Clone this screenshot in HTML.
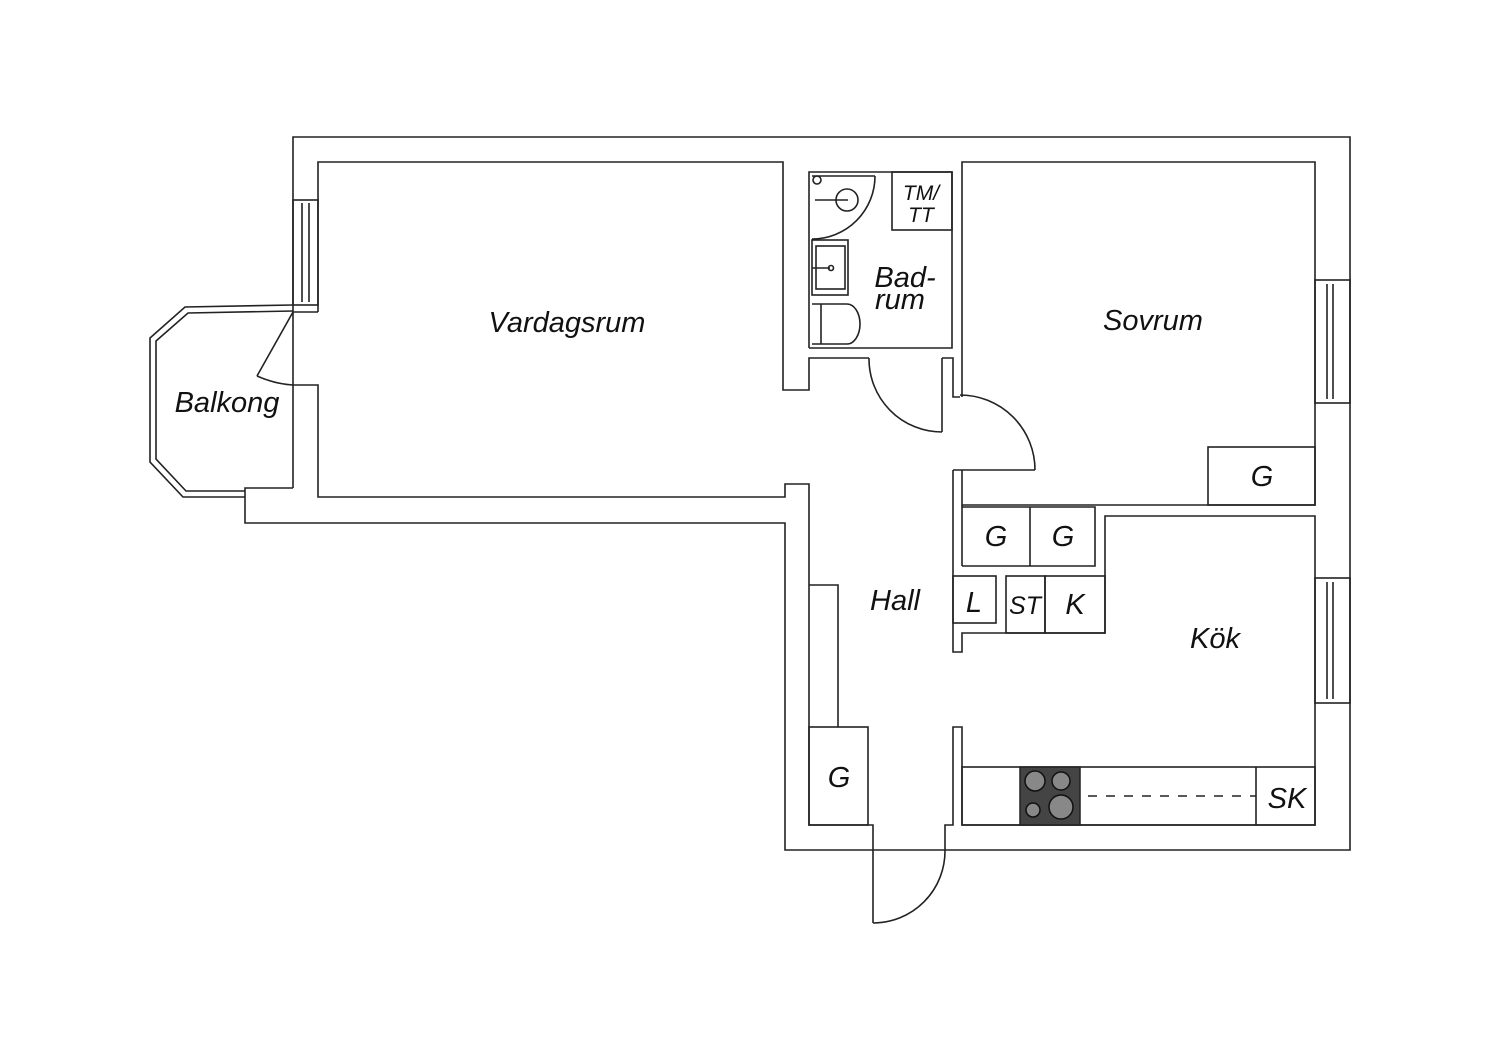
<!DOCTYPE html>
<html><head><meta charset="utf-8"><style>
html,body{margin:0;padding:0;background:#fff;width:1500px;height:1060px;overflow:hidden}
svg text{font-family:"Liberation Sans",sans-serif;font-style:italic;fill:#111}
</style></head><body>
<svg width="1500" height="1060" viewBox="0 0 1500 1060" xmlns="http://www.w3.org/2000/svg">
<g fill="none" stroke="#222" stroke-width="1.6">
<!-- outer wall -->
<polyline points="293,488 293,137 1350,137 1350,850 785,850 785,523 245,523 245,488 293,488"/>
<!-- vardagsrum inner -->
<polyline points="318,312 318,162 783,162 783,390 809,390 809,358 869,358"/>
<polyline points="293,312 318,312"/>
<polyline points="293,385 318,385 318,497 785,497 785,484 809,484 809,825 873,825 873,850"/>
<!-- vardagsrum window -->
<rect x="293" y="200" width="25" height="105"/>
<line x1="302" y1="203" x2="302" y2="302"/><line x1="309" y1="203" x2="309" y2="302"/>
<!-- balcony -->
<polyline points="293,305 185,307 150,338 150,462 183,497 245,497"/>
<polyline points="293,311 188,313 156,341 156,459 186,491 245,491"/>
<line x1="293" y1="312" x2="257" y2="376"/>
<path d="M257,376 Q275,384 293,385"/>
<!-- bathroom -->
<polyline points="809,348 809,172 952,172 952,348 809,348"/>
<polyline points="942,358 953,358 953,397 960,397"/>
<line x1="942" y1="358" x2="942" y2="432"/>
<path d="M869,358 A73,73 0 0 0 942,432"/>
<rect x="892" y="172" width="60" height="58"/>
<path d="M875,176 A63,63 0 0 1 812,239"/>
<line x1="812" y1="176" x2="875" y2="176"/>
<circle cx="847" cy="200" r="11"/>
<line x1="815" y1="200" x2="848" y2="200"/>
<circle cx="817" cy="180" r="4"/>
<rect x="812" y="240" width="36" height="55"/>
<rect x="816" y="246" width="29" height="43"/>
<line x1="812" y1="268" x2="830" y2="268"/><circle cx="831" cy="268" r="2.5"/>
<path d="M812,304 H847 A13,20 0 0 1 847,344 H812"/>
<line x1="821" y1="304" x2="821" y2="344"/>
<!-- sovrum -->
<polyline points="962,397 962,162 1315,162 1315,505 962,505 962,470"/>
<path d="M960,395 A75,75 0 0 1 1035,470"/>
<line x1="953" y1="470" x2="1035" y2="470"/>
<rect x="1315" y="280" width="35" height="123"/>
<line x1="1327" y1="284" x2="1327" y2="399"/><line x1="1333" y1="284" x2="1333" y2="399"/>
<rect x="1208" y="447" width="107" height="58"/>
<!-- hall-right wall -->
<polyline points="953,470 953,652 962,652 962,633 1105,633 1105,516 1315,516 1315,825 962,825 962,727 953,727 953,825 945,825 945,850"/>
<line x1="962" y1="505" x2="962" y2="566"/>
<polyline points="962,566 1095,566 1095,507 962,507"/>
<line x1="1030" y1="507" x2="1030" y2="566"/>
<rect x="953" y="576" width="43" height="47"/>
<rect x="1006" y="576" width="39" height="57"/>
<rect x="1045" y="576" width="60" height="57"/>
<!-- kitchen window -->
<rect x="1315" y="578" width="35" height="125"/>
<line x1="1327" y1="582" x2="1327" y2="699"/><line x1="1333" y1="582" x2="1333" y2="699"/>
<!-- counter -->
<rect x="962" y="767" width="353" height="58"/>
<line x1="1256" y1="767" x2="1256" y2="825"/>
<line x1="1088" y1="796" x2="1256" y2="796" stroke-dasharray="9,9"/>
<!-- hall wardrobe -->
<polyline points="809,585 838,585 838,727"/>
<rect x="809" y="727" width="59" height="98"/>
<!-- entrance door -->
<line x1="873" y1="850" x2="873" y2="923"/>
<path d="M873,923 A72,72 0 0 0 945,850"/>
</g>
<!-- hob -->
<rect x="1020" y="767" width="60" height="58" fill="#444" stroke="#222" stroke-width="1.5"/>
<g fill="#888" stroke="#111" stroke-width="1.5">
<circle cx="1035" cy="781" r="10"/><circle cx="1061" cy="781" r="9"/>
<circle cx="1033" cy="810" r="7"/><circle cx="1061" cy="807" r="12"/>
</g>
<!-- labels -->
<g font-size="29">
<text x="567" y="332" text-anchor="middle">Vardagsrum</text>
<text x="1153" y="330" text-anchor="middle">Sovrum</text>
<text x="227" y="412" text-anchor="middle">Balkong</text>
<text x="895" y="610" text-anchor="middle">Hall</text>
<text x="1215" y="648" text-anchor="middle">Kök</text>
<text x="1262" y="486" text-anchor="middle">G</text>
<text x="996" y="546" text-anchor="middle">G</text>
<text x="1063" y="546" text-anchor="middle">G</text>
<text x="974" y="612" text-anchor="middle">L</text>
<text x="1075" y="614" text-anchor="middle">K</text>
<text x="839" y="787" text-anchor="middle">G</text>
<text x="1287" y="808" text-anchor="middle">SK</text>
<text x="905" y="287" text-anchor="middle">Bad-</text>
<text x="900" y="309" text-anchor="middle">rum</text>
</g>
<text x="1025" y="614" text-anchor="middle" font-size="25">ST</text>
<text x="921" y="200" text-anchor="middle" font-size="21">TM/</text>
<text x="921" y="222" text-anchor="middle" font-size="21">TT</text>
</svg>
</body></html>
